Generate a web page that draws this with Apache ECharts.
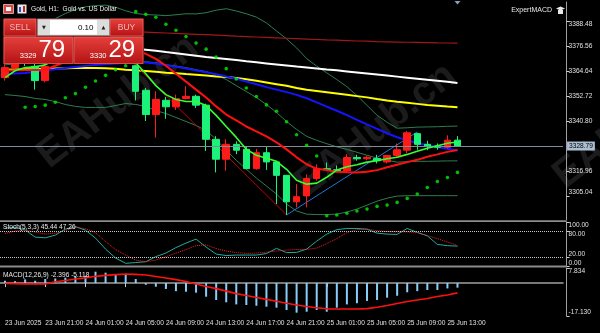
<!DOCTYPE html>
<html><head><meta charset="utf-8">
<script src="https://cdn.jsdelivr.net/npm/echarts@6/dist/echarts.min.js"></script>
<style>html,body{margin:0;padding:0;background:#000;}#c{width:600px;height:333px;}</style>
</head><body><div id="c"></div>
<script>
// ---------------- data ----------------
const timeLabels = ['23 Jun 17:00','23 Jun 18:00','23 Jun 19:00','23 Jun 20:00','23 Jun 21:00','23 Jun 22:00','23 Jun 23:00','24 Jun 00:00','24 Jun 01:00','24 Jun 02:00','24 Jun 03:00','24 Jun 04:00','24 Jun 05:00','24 Jun 06:00','24 Jun 07:00','24 Jun 08:00','24 Jun 09:00','24 Jun 10:00','24 Jun 11:00','24 Jun 12:00','24 Jun 13:00','24 Jun 14:00','24 Jun 15:00','24 Jun 16:00','24 Jun 17:00','24 Jun 18:00','24 Jun 19:00','24 Jun 20:00','24 Jun 21:00','24 Jun 22:00','24 Jun 23:00','25 Jun 00:00','25 Jun 01:00','25 Jun 02:00','25 Jun 03:00','25 Jun 04:00','25 Jun 05:00','25 Jun 06:00','25 Jun 07:00','25 Jun 08:00','25 Jun 09:00','25 Jun 10:00','25 Jun 11:00','25 Jun 12:00','25 Jun 13:00','25 Jun 14:00'];
const firstDateLabel = '23 Jun 2025';
const shiftBars = 10;

const opens  = [3361.4,3366.2,3371.5,3366.8,3360.0,3368.8,3375.0,3380.5,3377.5,3383.0,3379.5,3376.0,3371.5,3367.1,3355.4,3343.8,3350.6,3347.5,3351.4,3352.5,3348.3,3332.0,3322.5,3329.6,3327.2,3318.0,3325.6,3321.2,3314.8,3302.2,3305.0,3313.3,3318.0,3317.5,3316.9,3323.3,3322.7,3322.8,3321.2,3324.3,3326.8,3334.7,3329.6,3328.8,3328.2,3331.6];
const closes = [3366.2,3371.5,3369.0,3360.0,3366.8,3375.0,3380.5,3377.5,3383.0,3379.5,3376.0,3371.5,3369.5,3354.9,3343.8,3351.0,3347.5,3351.4,3352.5,3348.3,3332.0,3322.5,3329.6,3326.8,3318.0,3325.6,3321.2,3314.8,3302.2,3304.6,3313.3,3318.0,3317.5,3317.0,3323.3,3322.7,3323.4,3321.8,3324.3,3327.0,3335.1,3329.6,3328.5,3328.2,3331.6,3328.79];
const lows   = [3360.0,3365.5,3367.0,3355.7,3359.2,3368.6,3373.5,3375.0,3376.0,3377.0,3372.5,3370.0,3368.8,3350.5,3340.7,3332.8,3341.8,3346.0,3351.0,3347.0,3326.4,3316.2,3317.0,3324.9,3317.7,3317.5,3317.4,3301.1,3295.9,3299.5,3299.5,3312.2,3317.0,3316.5,3316.0,3321.8,3322.0,3320.5,3320.5,3323.5,3325.5,3327.0,3326.8,3327.0,3327.5,3328.5];
const highs  = [3368.0,3373.0,3374.0,3368.5,3369.5,3377.0,3383.0,3384.5,3386.5,3388.0,3381.5,3378.5,3374.5,3367.6,3356.5,3354.9,3352.2,3353.3,3357.3,3353.3,3349.0,3333.5,3332.0,3331.0,3328.4,3327.4,3328.7,3321.6,3315.0,3310.6,3315.3,3320.1,3320.9,3319.5,3325.0,3324.6,3324.0,3324.6,3324.6,3330.0,3336.0,3335.1,3331.3,3330.0,3333.9,3333.5];
const currentBid = 3328.79;

const maWhite  = [3378.0,3377.9,3377.8,3377.7,3377.6,3377.4,3377.2,3377.0,3376.8,3376.6,3376.3,3376.0,3375.6,3375.2,3374.7,3374.2,3373.6,3373.1,3372.5,3371.9,3371.3,3370.8,3370.3,3369.8,3369.2,3368.7,3368.2,3367.7,3367.2,3366.7,3366.3,3365.8,3365.3,3364.9,3364.4,3363.9,3363.4,3362.9,3362.4,3361.9,3361.4,3360.9,3360.4,3359.9,3359.4,3358.9];
const maDarkRed = [3385.0,3384.9,3384.8,3384.7,3384.6,3384.5,3384.4,3384.3,3384.1,3384.0,3383.9,3383.7,3383.5,3383.3,3383.1,3382.9,3382.7,3382.5,3382.3,3382.1,3381.9,3381.7,3381.5,3381.2,3381.0,3380.8,3380.6,3380.4,3380.2,3380.0,3379.8,3379.6,3379.4,3379.3,3379.1,3378.9,3378.8,3378.6,3378.5,3378.4,3378.3,3378.2,3378.1,3378.0,3377.95,3377.9];
const maYellow = [3365.2,3365.3,3365.4,3365.5,3365.7,3365.8,3365.9,3366.0,3366.0,3366.0,3365.9,3365.6,3365.2,3364.9,3364.6,3364.2,3363.8,3363.5,3363.1,3362.8,3362.4,3362.0,3361.7,3361.3,3360.6,3359.9,3359.1,3358.3,3357.5,3356.5,3355.6,3355.0,3354.4,3353.8,3353.2,3352.6,3352.0,3351.2,3350.5,3349.9,3349.4,3348.9,3348.4,3348.0,3347.6,3347.3];
const maBlue   = [3363.3,3363.4,3363.6,3364.2,3364.8,3365.4,3366.0,3366.5,3367.0,3367.4,3367.8,3368.2,3368.5,3368.7,3368.6,3368.2,3367.3,3366.6,3365.8,3364.8,3364.0,3363.0,3362.0,3360.9,3359.6,3358.3,3356.9,3355.7,3354.5,3353.2,3351.6,3349.6,3347.6,3345.6,3343.5,3341.3,3339.1,3337.0,3334.9,3333.0,3331.5,3330.2,3329.2,3328.3,3327.5,3326.7];
const maRed    = [3364.7,3364.9,3365.0,3365.1,3365.2,3367.1,3369.0,3370.9,3372.3,3373.8,3374.7,3375.2,3375.2,3374.2,3372.8,3370.4,3367.1,3363.3,3359.5,3355.7,3351.9,3347.7,3343.8,3341.0,3338.1,3335.8,3333.4,3330.5,3327.2,3323.4,3320.1,3317.9,3317.3,3316.5,3316.3,3316.2,3316.5,3317.3,3318.7,3319.9,3321.1,3322.2,3323.7,3324.8,3326.0,3326.9];
const maGreen  = [3361.4,3364.7,3366.2,3366.6,3367.5,3370.0,3372.3,3374.7,3376.6,3377.6,3377.1,3375.7,3373.3,3368.5,3363.3,3357.6,3353.3,3351.0,3350.0,3350.0,3348.1,3343.4,3338.1,3332.9,3327.2,3324.4,3323.0,3321.5,3317.7,3312.5,3310.6,3311.1,3313.9,3317.3,3318.9,3319.9,3321.1,3321.8,3322.7,3323.4,3324.8,3326.3,3327.7,3328.9,3330.1,3330.7];
const bbUpper  = [3381.7,3383.1,3384.6,3386.5,3387.6,3389.6,3392.0,3393.9,3395.2,3395.8,3396.0,3395.0,3393.3,3392.0,3391.5,3391.3,3391.0,3391.4,3391.9,3391.8,3392.4,3393.6,3394.3,3393.2,3391.9,3390.3,3387.5,3383.7,3379.9,3375.6,3370.5,3366.9,3363.7,3360.5,3357.1,3352.9,3348.2,3343.5,3340.1,3337.3,3337.5,3337.8,3337.9,3338.0,3338.2,3338.3];
const bbMiddle = [3367.5,3368.0,3368.5,3369.0,3369.3,3369.8,3370.3,3370.8,3371.2,3371.5,3371.6,3371.5,3371.2,3369.5,3369.0,3368.5,3367.6,3366.9,3366.2,3365.2,3364.3,3362.8,3360.5,3357.6,3354.8,3351.9,3348.6,3344.8,3340.5,3336.7,3333.4,3331.5,3329.9,3328.4,3327.2,3325.8,3324.4,3323.0,3322.0,3321.1,3321.3,3321.5,3321.5,3321.6,3321.7,3321.7];
const bbLower  = [3353.3,3352.9,3352.4,3351.5,3351.0,3350.0,3348.6,3347.7,3347.2,3347.2,3347.2,3348.1,3349.1,3348.6,3347.7,3345.7,3344.3,3342.4,3340.5,3338.6,3336.2,3332.0,3326.7,3322.0,3317.7,3313.5,3309.7,3305.9,3301.1,3297.8,3296.3,3296.1,3296.1,3296.3,3297.3,3298.7,3300.6,3302.5,3303.9,3304.9,3305.1,3305.1,3305.1,3305.1,3305.1,3305.1];
const sar = ['-','-',3347.3,3347.6,3348.3,3349.7,3351.8,3353.8,3356.8,3359.8,3362.5,3365.2,3367.1,3392.9,3391.6,3390.2,3386.9,3384.0,3381.0,3377.9,3375.0,3371.2,3365.7,3360.8,3356.5,3352.4,3348.4,3345.4,3340.4,3334.2,3329.1,3324.0,3295.5,3295.9,3296.7,3297.8,3298.7,3300.0,3300.6,3301.9,3303.8,3305.9,3309.0,3311.9,3313.8,3316.2];
const trendDown = [[12, 3371.9], [28, 3295.9]];
const trendUp   = [[28, 3295.9], [41, 3335.5]];
const priceTicks = [3305.04, 3316.96, 3340.80, 3352.72, 3364.64, 3376.56, 3388.48];

const stochMain   = [86.0,88.0,82.0,65.8,64.2,70.3,83.8,89.5,81.6,63.5,38.7,18.4,6.5,8.3,10.1,21.8,29.7,42.1,52.3,61.3,43.2,27.4,24.1,25.2,25.2,25.2,28.6,40.3,30.8,31.3,38.7,56.8,72.6,82.7,85.4,85.4,83.8,74.8,72.6,71.9,85.4,76.4,68.7,49.3,46.5,45.44];
const stochSignal = [74.1,79.3,81.6,77.1,72.6,74.8,80.5,88.3,85.0,75.9,55.6,37.6,25.2,13.9,10.1,13.9,21.3,29.7,37.6,46.6,48.4,39.8,34.2,30.8,29.0,29.7,32.0,34.2,36.5,37.6,38.0,41.0,51.1,62.4,75.9,82.7,83.8,80.5,78.2,77.7,77.7,76.4,69.2,62.4,54.5,47.26];
const stochLevels = [20, 80];
const stochBounds = [0, 100];

const macdMain   = [1.2,1.0,1.9,1.2,2.1,2.4,2.8,3.3,3.8,5.9,5.4,4.5,4.2,2.1,-0.9,-1.9,-3.1,-4.2,-4.5,-5.0,-7.1,-8.8,-10.0,-11.1,-11.4,-11.8,-12.3,-12.8,-14.0,-15.4,-14.9,-14.0,-14.9,-12.8,-11.1,-10.5,-9.3,-8.8,-7.6,-6.6,-4.8,-4.2,-3.6,-3.6,-2.8,-2.396];
const macdSignal = [-0.2,-0.3,-0.4,-0.5,-0.5,0.7,1.3,2.1,2.7,3.5,4.0,4.4,4.7,4.5,4.2,3.4,2.6,1.8,0.8,-0.5,-1.8,-2.9,-4.2,-5.5,-6.5,-7.5,-8.5,-9.5,-10.5,-11.4,-12.2,-12.8,-13.4,-13.5,-13.5,-13.5,-13.3,-12.6,-11.7,-10.6,-9.6,-8.8,-8.0,-7.0,-6.2,-5.118];
const macdRange = [-17.130, 7.834];

// ---------------- chart ----------------
const cats = timeLabels.concat(new Array(shiftBars).fill(''));
const candles = opens.map((o, i) => [o, closes[i], lows[i], highs[i]]);
const FONT = "'Liberation Sans', Arial, sans-serif";
const AX = '#a0a0a0', TXT = '#e0e0e0';
const GL = -2.55, GR = 36.95;
const showTick = (i) => i % 4 === 0 && i < timeLabels.length;

function line(data, color, width, z) {
  return {type:'line', data, xAxisIndex:0, yAxisIndex:0, symbol:'none', smooth:false,
    lineStyle:{color, width}, z: z || 3, silent:true};
}
function rightAxis(grid, min, max, ticks, digits, showLine) {
  return {type:'value', gridIndex:grid, position:'right', offset:3.5, min, max,
    splitLine:{show:false},
    axisLine:{show:showLine !== false, lineStyle:{color:AX}},
    axisTick:{show:true, length:3, customValues:ticks, lineStyle:{color:'#cfcfcf'}},
    axisLabel:{customValues:ticks, formatter:v => v.toFixed(digits), color:TXT, fontSize:6.6, margin:2, fontFamily:FONT,
      showMinLabel:true, showMaxLabel:true, hideOverlap:false,
      verticalAlignMinLabel:'bottom', verticalAlignMaxLabel:'top'}};
}

const redGrad = {type:'linear', x:0, y:0, x2:0, y2:1, colorStops:[{offset:0,color:'#e5403c'},{offset:1,color:'#b41313'}]};
const wm = (x, y) => ({type:'text', x, y, rotation:0.66, z:0, silent:true,
  style:{text:'EAHub.cn', font:'bold 40px "Liberation Sans"', fill:'rgba(90,90,90,0.3)', textAlign:'center', textVerticalAlign:'middle'}});

const option = {
  backgroundColor:'#000',
  animation:false,
  textStyle:{fontFamily:FONT},
  grid:[
    {left:GL, right:GR, top:2, height:218},
    {left:GL, right:GR, top:222, height:44.2},
    {left:GL, right:GR, top:268, height:48}
  ],
  xAxis:[
    {type:'category', gridIndex:0, data:cats, show:false},
    {type:'category', gridIndex:1, data:cats, show:false},
    {type:'category', gridIndex:2, data:cats,
      axisLine:{show:true, lineStyle:{color:AX, width:1.5}},
      axisTick:{show:true, alignWithLabel:true, interval:showTick, length:4, lineStyle:{color:'#cfcfcf'}},
      axisLabel:{show:true, interval:showTick, align:'left', margin:4, color:TXT, fontSize:6.6, fontFamily:FONT,
        formatter:(v, i) => i === 0 ? firstDateLabel : v},
      splitLine:{show:false}}
  ],
  yAxis:[
    rightAxis(0, 3293.5, 3397.5, priceTicks, 2),
    rightAxis(1, stochBounds[0], stochBounds[1], stochBounds, 2),
    rightAxis(2, macdRange[0], macdRange[1], macdRange, 3),
    rightAxis(1, stochBounds[0], stochBounds[1], stochLevels, 2, false)
  ],
  series:[
    line(bbUpper, '#2e7d4f', 1, 2),
    line(bbMiddle, '#2e7d4f', 1, 2),
    line(bbLower, '#2e7d4f', 1, 2),
    line(maDarkRed, '#a01818', 1.2, 2),
    line(maWhite, '#ffffff', 2, 3),
    line(maYellow, '#ffff00', 2, 3),
    line(maBlue, '#1414ff', 2, 3),
    {type:'line', data:trendDown, xAxisIndex:0, yAxisIndex:0, symbol:'none', lineStyle:{color:'#c00000', width:1}, z:3, silent:true},
    {type:'line', data:trendUp, xAxisIndex:0, yAxisIndex:0, symbol:'none', lineStyle:{color:'#1e78e0', width:1}, z:3, silent:true},
    {type:'candlestick', data:candles, xAxisIndex:0, yAxisIndex:0, barWidth:7, z:4,
      itemStyle:{color:'#ff1a1a', color0:'#1cf27a', borderColor:'#ff1a1a', borderColor0:'#1cf27a', borderWidth:1},
      markLine:{silent:true, symbol:'none', animation:false,
        lineStyle:{color:'#7f8c99', width:1, type:'solid'},
        label:{show:true, position:'end', formatter:currentBid.toFixed(2), color:'#000', fontSize:6.6, fontFamily:FONT,
          backgroundColor:'#aabdd2', padding:[1,2], distance:4},
        data:[{yAxis:currentBid}]}},
    line(maRed, '#ff1010', 2, 5),
    line(maGreen, '#33ff33', 1.6, 5),
    {type:'scatter', data:sar, xAxisIndex:0, yAxisIndex:0, symbol:'circle', symbolSize:3.6,
      itemStyle:{color:'#00ee00'}, z:5, silent:true},
    // stochastic
    {type:'line', data:stochMain, xAxisIndex:1, yAxisIndex:1, symbol:'none', lineStyle:{color:'#20aaa0', width:1}, z:3, silent:true,
      markLine:{silent:true, symbol:'none', label:{show:false}, lineStyle:{color:'#c8c8c8', type:'dotted', width:1},
        data:stochLevels.map(v => ({yAxis:v}))}},
    {type:'line', data:stochSignal, xAxisIndex:1, yAxisIndex:1, symbol:'none', lineStyle:{color:'#ff2020', width:1, type:'dotted'}, z:3, silent:true},
    // macd
    {type:'bar', data:macdMain, xAxisIndex:2, yAxisIndex:2, barWidth:2, itemStyle:{color:'#87cefa'}, z:2, silent:true},
    {type:'line', data:macdSignal, xAxisIndex:2, yAxisIndex:2, symbol:'none', lineStyle:{color:'#ff1010', width:1.6}, z:3, silent:true}
  ],
  graphic:[
    wm(118, 102), wm(376, 130), wm(634, 122),
    // panel separators
    {type:'rect', shape:{x:0, y:220.3, width:566.5, height:1.8}, style:{fill:'#8c8c8c'}, z:20, silent:true},
    {type:'rect', shape:{x:0, y:265.6, width:566.5, height:1.8}, style:{fill:'#8c8c8c'}, z:20, silent:true},
    // chart shift marker
    {type:'polygon', shape:{points:[[454.5,1],[460.5,1],[457.5,4.5]]}, style:{fill:'#8aa0b8'}, z:20, silent:true},
    // header
    {type:'rect', shape:{x:3.5, y:4.5, width:10, height:9}, style:{fill:'#e04545', stroke:'#ffffff', lineWidth:0.6}, z:20, silent:true},
    {type:'rect', shape:{x:6, y:7, width:5, height:4}, style:{fill:'#ffffff'}, z:20, silent:true},
    {type:'rect', shape:{x:17.5, y:4.5, width:9, height:9}, style:{fill:'#e8e8e8'}, z:20, silent:true},
    {type:'rect', shape:{x:19, y:7, width:2, height:5}, style:{fill:'#2255cc'}, z:21, silent:true},
    {type:'rect', shape:{x:23, y:6, width:2, height:6}, style:{fill:'#cc2222'}, z:21, silent:true},
    {type:'text', x:31, y:9, z:20, silent:true,
      style:{text:'Gold, H1:  Gold vs. US Dollar', font:'6.6px "Liberation Sans"', fill:'#f0f0f0', textVerticalAlign:'middle'}},
    {type:'text', x:552, y:10.5, z:20, silent:true,
      style:{text:'ExpertMACD', font:'7px "Liberation Sans"', fill:'#e8e8e8', textAlign:'right', textVerticalAlign:'middle'}},
    {type:'polygon', shape:{points:[[556,8.5],[560.5,6.5],[565,8.5],[560.5,10.5]]}, style:{fill:'#e8e8e8'}, z:20, silent:true},
    {type:'rect', shape:{x:558, y:10, width:5, height:4}, style:{fill:'#e8e8e8'}, z:20, silent:true},
    // trade panel
    {type:'rect', shape:{x:3, y:18.3, width:141, height:45.7}, style:{fill:'#6a0c0c'}, z:50, silent:true},
    {type:'rect', shape:{x:4, y:19, width:32, height:17}, style:{fill:redGrad, stroke:'#ef7d7d', lineWidth:0.6}, z:51, silent:true},
    {type:'rect', shape:{x:110, y:19, width:33, height:17}, style:{fill:redGrad, stroke:'#ef7d7d', lineWidth:0.6}, z:51, silent:true},
    {type:'rect', shape:{x:4, y:37, width:69, height:26.5}, style:{fill:redGrad, stroke:'#ef7d7d', lineWidth:0.6}, z:51, silent:true},
    {type:'rect', shape:{x:74, y:37, width:69, height:26.5}, style:{fill:redGrad, stroke:'#ef7d7d', lineWidth:0.6}, z:51, silent:true},
    {type:'rect', shape:{x:37.5, y:19, width:72, height:16.5}, style:{fill:'#dcdcdc', stroke:'#8a8a8a', lineWidth:0.6}, z:51, silent:true},
    {type:'rect', shape:{x:50, y:20, width:47, height:14.5}, style:{fill:'#ffffff'}, z:52, silent:true},
    {type:'text', x:44, y:27.5, z:53, silent:true, style:{text:'▼', font:'5px "DejaVu Sans"', fill:'#222', textAlign:'center', textVerticalAlign:'middle'}},
    {type:'text', x:103.5, y:27.5, z:53, silent:true, style:{text:'▲', font:'5px "DejaVu Sans"', fill:'#222', textAlign:'center', textVerticalAlign:'middle'}},
    {type:'text', x:93.5, y:27.8, z:53, silent:true, style:{text:'0.10', font:'8px "Liberation Sans"', fill:'#000', textAlign:'right', textVerticalAlign:'middle'}},
    {type:'text', x:20, y:27.8, z:53, silent:true, style:{text:'SELL', font:'8.5px "Liberation Sans"', fill:'#f7b9b9', textAlign:'center', textVerticalAlign:'middle'}},
    {type:'text', x:126.5, y:27.8, z:53, silent:true, style:{text:'BUY', font:'8.5px "Liberation Sans"', fill:'#f7b9b9', textAlign:'center', textVerticalAlign:'middle'}},
    {type:'text', x:36.5, y:55.5, z:53, silent:true, style:{text:'3329', font:'7.5px "Liberation Sans"', fill:'#ffffff', textAlign:'right', textVerticalAlign:'middle'}},
    {type:'text', x:38.5, y:50.5, z:53, silent:true, style:{text:'79', font:'24px "Liberation Sans Narrow", "Liberation Sans"', fill:'#ffffff', textVerticalAlign:'middle'}},
    {type:'text', x:106.5, y:55.5, z:53, silent:true, style:{text:'3330', font:'7.5px "Liberation Sans"', fill:'#ffffff', textAlign:'right', textVerticalAlign:'middle'}},
    {type:'text', x:108.5, y:50.5, z:53, silent:true, style:{text:'29', font:'24px "Liberation Sans Narrow", "Liberation Sans"', fill:'#ffffff', textVerticalAlign:'middle'}},
    // indicator captions
    {type:'text', x:3, y:227, z:20, silent:true,
      style:{text:'Stoch(5,3,3) ' + stochMain[stochMain.length-1].toFixed(2) + ' ' + stochSignal[stochSignal.length-1].toFixed(2), font:'6.6px "Liberation Sans"', fill:'#e8e8e8', textVerticalAlign:'middle'}},
    {type:'text', x:3, y:275.5, z:20, silent:true,
      style:{text:'MACD(12,26,9) ' + macdMain[macdMain.length-1].toFixed(3) + ' ' + macdSignal[macdSignal.length-1].toFixed(3), font:'6.6px "Liberation Sans"', fill:'#e8e8e8', textVerticalAlign:'middle'}}
  ]
};

const chart = echarts.init(document.getElementById('c'), null, {renderer:'canvas', width:600, height:333});
chart.setOption(option);
</script>
</body></html>
